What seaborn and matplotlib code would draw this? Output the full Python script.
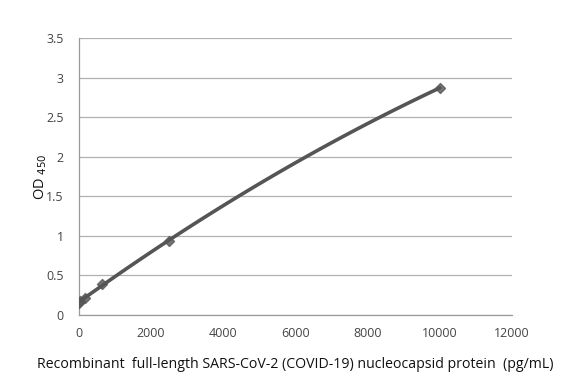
import numpy as np
import pandas as pd
import matplotlib
matplotlib.use("Agg")
import matplotlib.pyplot as plt
import seaborn as sns

# standard curve readings
conc = [0, 39, 156, 625, 2500, 10000]
od450 = [0.15, 0.18, 0.21, 0.39, 0.94, 2.87]

x_ticks = [0, 2000, 4000, 6000, 8000, 10000, 12000]
y_ticks = [0, 0.5, 1, 1.5, 2, 2.5, 3, 3.5]
y_tick_labels = ["0", "0.5", "1", "1.5", "2", "2.5", "3", "3.5"]

df = pd.DataFrame({"conc": conc, "od": od450})

sns.set_style("white")
plt.rcParams["font.family"] = ["Open Sans", "DejaVu Sans"]

fig = plt.figure(figsize=(5.82, 3.82), dpi=100)
ax = fig.add_axes([0.1357, 0.1754, 0.7440, 0.7251])

line_color = "#555555"
sns.regplot(
    data=df, x="conc", y="od", order=2, ci=None, ax=ax, marker="D",
    scatter_kws={"s": 26, "color": line_color, "zorder": 3},
    line_kws={"color": line_color, "lw": 2.6, "zorder": 2},
)

ax.set_xlim(0, 12000)
ax.set_ylim(0, 3.5)
ax.set_xticks(x_ticks)
ax.set_yticks(y_ticks)
ax.set_yticklabels(y_tick_labels)
ax.yaxis.grid(True, color="#b0b0b0", lw=0.9)
ax.xaxis.grid(False)
ax.set_axisbelow(True)

for side in ["top", "right"]:
    ax.spines[side].set_visible(False)
for side in ["left", "bottom"]:
    ax.spines[side].set_color("#9a9a9a")
    ax.spines[side].set_linewidth(0.9)

ax.tick_params(axis="both", which="both", direction="out", length=5,
               color="#9a9a9a", labelsize=9, labelcolor="#444444")
ax.tick_params(axis="y", pad=6)
ax.tick_params(axis="x", pad=4)

ax.set_xlabel("Recombinant  full-length SARS-CoV-2 (COVID-19) nucleocapsid protein  (pg/mL)",
              fontsize=10.2, color="#111111", labelpad=12)
ax.set_ylabel(r"OD $_{450}$", fontsize=10.5, color="#111111", labelpad=-50)
ax.yaxis.set_label_coords(-0.07, 0.5)

fig.savefig("out.png", dpi=100)
